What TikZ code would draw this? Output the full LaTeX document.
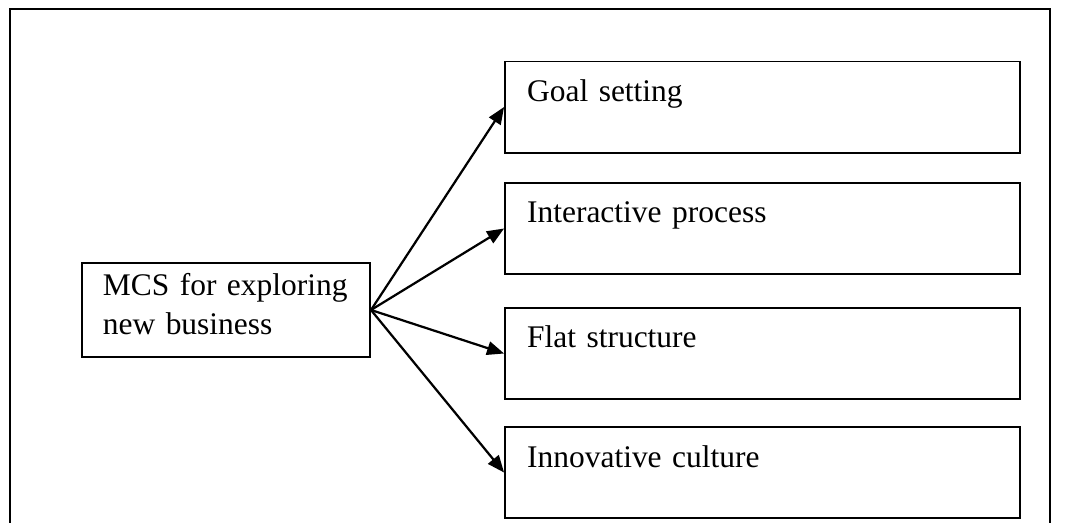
\documentclass[tikz,border=0pt]{standalone}
\usepackage{fontspec}
\setmainfont{Liberation Serif}
\usetikzlibrary{arrows.meta}
\begin{document}
\begin{tikzpicture}[
  box/.style={draw, line width=0.75pt, inner xsep=0.295cm, inner ysep=0pt, text width=6.31cm, align=left, text height=0.536cm, text depth=0.684cm, font=\fontsize{12}{15.2}\selectfont},
  mcsbox/.style={draw, line width=0.75pt, inner xsep=0.28cm, inner ysep=0pt, text width=3.30cm, align=left, text height=0.43cm, text depth=0.83cm, font=\fontsize{12}{15.2}\selectfont},
  arr/.style={line width=0.85pt, -{Triangle[length=6.5pt,width=5.2pt]}}]
\useasboundingbox (0,0) rectangle (14.311,-7.008);
\draw[line width=0.75pt] (0.134,-7.008) -- (0.134,-0.121) -- (14.07,-0.121) -- (14.07,-7.008);
\node[mcsbox] (mcs) at (3.028,-4.154){MCS for exploring\\new business};
\node[box] (goal) at (10.218,-1.434){Goal setting};
\node[box] (inter) at (10.218,-3.062){Interactive process};
\node[box] (flat) at (10.218,-4.737){Flat structure};
\node[box] (innov) at (10.218,-6.332){Innovative culture};
\draw[arr] (mcs.east) -- (goal.west);
\draw[arr] (mcs.east) -- (inter.west);
\draw[arr] (mcs.east) -- (flat.west);
\draw[arr] (mcs.east) -- (innov.west);
\end{tikzpicture}
\end{document}
